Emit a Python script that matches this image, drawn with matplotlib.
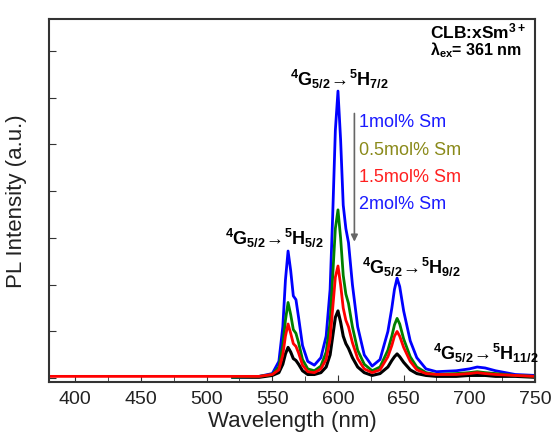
import numpy as np
import matplotlib
matplotlib.use("Agg")
import matplotlib.pyplot as plt
from matplotlib.ticker import MultipleLocator

plt.rcParams["font.family"] = ["Liberation Sans", "DejaVu Sans"]
plt.rcParams["mathtext.fontset"] = "custom"
plt.rcParams["mathtext.rm"] = "Liberation Sans"
plt.rcParams["mathtext.it"] = "Liberation Sans:italic"
plt.rcParams["mathtext.bf"] = "Liberation Sans:bold"

# %% data (arbitrary intensity units)
wl = [520, 540, 550, 555, 558, 560, 562, 564, 566, 568, 570, 573, 577, 582, 587,
      591, 594, 596, 598, 600, 602, 604, 606, 608, 611, 615, 620, 626, 632, 638,
      641, 643, 645, 647, 650, 655, 660, 667, 675, 690, 700, 706, 712, 720, 735, 750]

sm_1 = [0.01, 0.02, 0.05, 0.18, 0.55, 1.05, 1.36, 1.15, 0.88, 0.84, 0.65, 0.35, 0.18, 0.14, 0.22,
        0.45, 0.95, 1.75, 2.65, 3.07, 2.55, 1.85, 1.60, 1.45, 1.00, 0.55, 0.25, 0.13, 0.20, 0.50,
        0.75, 0.95, 1.07, 0.98, 0.72, 0.40, 0.22, 0.10, 0.07, 0.08, 0.10, 0.12, 0.11, 0.08, 0.04, 0.03]

sm_05 = [0.01, 0.02, 0.04, 0.12, 0.35, 0.62, 0.81, 0.68, 0.52, 0.48, 0.38, 0.20, 0.10, 0.08, 0.13,
         0.28, 0.60, 1.10, 1.60, 1.80, 1.50, 1.10, 0.90, 0.80, 0.55, 0.30, 0.15, 0.08, 0.12, 0.30,
         0.45, 0.57, 0.64, 0.58, 0.42, 0.23, 0.12, 0.06, 0.04, 0.05, 0.06, 0.07, 0.06, 0.05, 0.03, 0.02]

wl_red = [380, 450, 500] + wl
sm_15 = [0.02, 0.02, 0.02,
         0.02, 0.02, 0.04, 0.09, 0.25, 0.45, 0.58, 0.48, 0.37, 0.34, 0.27, 0.14, 0.07, 0.06, 0.10,
         0.20, 0.42, 0.75, 1.08, 1.20, 1.00, 0.75, 0.62, 0.55, 0.38, 0.21, 0.10, 0.06, 0.09, 0.23,
         0.35, 0.45, 0.50, 0.45, 0.33, 0.18, 0.09, 0.05, 0.04, 0.04, 0.05, 0.06, 0.05, 0.04, 0.03, 0.02]

sm_2 = [0.01, 0.01, 0.03, 0.06, 0.15, 0.26, 0.33, 0.28, 0.21, 0.19, 0.15, 0.08, 0.04, 0.04, 0.06,
        0.12, 0.25, 0.45, 0.65, 0.72, 0.60, 0.45, 0.37, 0.32, 0.22, 0.12, 0.06, 0.03, 0.05, 0.12,
        0.19, 0.23, 0.26, 0.23, 0.17, 0.09, 0.05, 0.03, 0.02, 0.02, 0.03, 0.03, 0.03, 0.02, 0.02, 0.01]

legend_labels = ["1mol% Sm", "0.5mol% Sm", "1.5mol% Sm", "2mol% Sm"]
legend_colors = ["#1a1aff", "#8a8a1a", "#ff2020", "#1a1aff"]

# %% plot
fig = plt.figure(figsize=(5.57, 4.39), dpi=100)
ax = fig.add_axes([0.088, 0.1276, 0.8725, 0.8268])

ax.plot(wl, sm_2, color="black", lw=2.2)
ax.plot(wl, sm_1, color="#0000ff", lw=2.0)
ax.plot(wl, sm_05, color="#008000", lw=2.0)
ax.plot(wl_red, sm_15, color="#ff0000", lw=2.0)

ax.set_xlim(380, 750)
ax.set_ylim(-0.04, 3.84)
ax.xaxis.set_major_locator(MultipleLocator(50))
ax.xaxis.set_minor_locator(MultipleLocator(25))
ax.yaxis.set_major_locator(MultipleLocator(0.5))
ax.set_yticklabels([])
ax.tick_params(axis="both", which="both", direction="in", color="#333333")
ax.tick_params(axis="x", which="major", length=5, labelsize=14, pad=6, labelcolor="#222222")
ax.tick_params(axis="x", which="minor", length=4)
ax.tick_params(axis="y", length=5)
for sp in ax.spines.values():
    sp.set_color("#333333")
    sp.set_linewidth(1.5)

ax.set_xlabel("Wavelength (nm)", fontsize=16, labelpad=2, color="#222222")
ax.set_ylabel("PL Intensity (a.u.)", fontsize=16, labelpad=12, color="#222222")

# transition labels
ax.text(601, 3.2, r"$\mathbf{^4G_{5/2}\!\rightarrow\!^5H_{7/2}}$", fontsize=13, ha="center", va="center")
ax.text(551.5, 1.51, r"$\mathbf{^4G_{5/2}\!\rightarrow\!^5H_{5/2}}$", fontsize=13, ha="center", va="center")
ax.text(656, 1.19, r"$\mathbf{^4G_{5/2}\!\rightarrow\!^5H_{9/2}}$", fontsize=13, ha="center", va="center")
ax.text(712.7, 0.28, r"$\mathbf{^4G_{5/2}\!\rightarrow\!^5H_{11/2}}$", fontsize=13, ha="center", va="center")

ax.text(742.7, 3.72, r"CLB:xSm$^{\mathbf{3+}}$", fontsize=12.5, fontweight="bold", ha="right", va="center")
ax.text(739.7, 3.52, r"$\mathbf{\lambda_{ex}}$= 361 nm", fontsize=11.5, fontweight="bold", ha="right", va="center")

# concentration labels with downward arrow
ax.annotate("", xy=(612.5, 1.43), xytext=(612.5, 2.86),
            arrowprops=dict(arrowstyle="-|>", color="#666666", lw=1.2, mutation_scale=10))
for i, (lab, col) in enumerate(zip(legend_labels, legend_colors)):
    ax.text(616, 2.74 - 0.29 * i, lab, color=col, fontsize=13, ha="left", va="center")

plt.savefig("out.png", dpi=100)
